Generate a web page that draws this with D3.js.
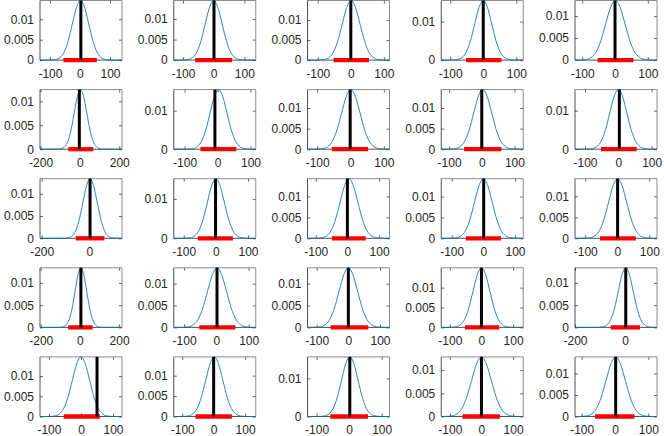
<!DOCTYPE html><meta charset="utf-8">
<style>*{margin:0}body{background:#fff}text{font-family:"Liberation Sans",Arial,sans-serif;font-size:12px;fill:#262626}</style>
<svg width="664" height="436"></svg>
<script src="https://d3js.org/d3.v7.min.js"></script>
<script>
// one entry per panel, row by row (5 x 5)
const xLo     = [-133,-130,-131,-127,-122, -203,-133,-129,-124,-130, -207,-131,-126,-133,-132, -204,-132,-129,-127,-200, -128,-127,-128,-127,-120];
const xHi     = [ 140, 137, 117, 121, 128,  214, 116, 117, 127, 116,  137, 124, 133, 126, 124,  215, 122, 130, 132, 128,  128, 134, 124, 132, 126];
const xTicks  = [[-100,0,100],[-100,0,100],[-100,0,100],[-100,0,100],[-100,0,100],
                 [-200,0,200],[-100,0,100],[-100,0,100],[-100,0,100],[-100,0,100],
                 [-200,0],    [-100,0,100],[-100,0,100],[-100,0,100],[-100,0,100],
                 [-200,0,200],[-100,0,100],[-100,0,100],[-100,0,100],[-200,0],
                 [-100,0,100],[-100,0,100],[-100,0,100],[-100,0,100],[-100,0,100]];
const yTicks  = [[0,0.005,0.01],[0,0.005,0.01],[0,0.005,0.01],[0,0.01],[0,0.005,0.01],
                 [0,0.005,0.01],[0,0.01],[0,0.005,0.01],[0,0.005,0.01],[0,0.01],
                 [0,0.005,0.01],[0,0.01],[0,0.005,0.01],[0,0.005,0.01],[0,0.005,0.01],
                 [0,0.005,0.01],[0,0.005,0.01],[0,0.005,0.01],[0,0.005,0.01],[0,0.005,0.01],
                 [0,0.005,0.01],[0,0.005,0.01],[0,0.01],[0,0.005,0.01],[0,0.005,0.01]];
const peaks   = [0.0146,0.0145,0.0149,0.0155,0.0135, 0.01245,0.0155,0.01447,0.01447,0.0155,
                 0.01338,0.0152,0.01424,0.01428,0.0142, 0.01341,0.01362,0.01362,0.0150,0.0134,
                 0.01475,0.0146,0.01565,0.01286,0.01385];
const spreads = [27.3,27.5,26.8,25.7,29.5, 32.0,25.7,27.6,27.6,25.7,
                 29.8,26.2,28.0,27.9,28.1, 29.7,29.3,29.3,26.6,29.8,
                 27.0,27.3,25.5,31.0,28.8];
const centers = [2,0,1,0,1, 3,3,1,3,0, 3,0,5,0,1, 5,2,0,0,3, 0,2,2,0,2];
const lineAt  = [3,1,0,0,0, -3,-8,-1,0,3, 3,-1,0,1,1, 5,2,0,0,3, 50,0,2,0,2];
const barLo   = [-55,-60,-52,-52,-53, -59,-52,-56,-54,-52, -57,-56,-49,-55,-54, -60,-53,-56,-52,-57, -54,-58,-58,-60,-60];
const barHi   = [ 56, 60, 55, 55, 56,  68, 57, 53, 60, 55,  63, 53, 58, 56, 58,  65, 59, 63, 56, 60,  59, 58, 58, 58, 58];

// bell profile: offsets in spreads, height relative to the peak
const bellZ = [-4,-3.5,-3,-2.5,-2,-1.5,-1,-0.5,0,0.5,1,1.5,2,2.5,3,3.5,4];
const bellH = [0.0003,0.0022,0.011,0.044,0.135,0.325,0.607,0.882,1,0.882,0.607,0.325,0.135,0.044,0.011,0.0022,0.0003];

const svg = d3.select("svg"),
      cols = 5, left0 = 40, colStep = 133.75, boxW = 82,
      top0 = 0.5, rowStep = 89.1, boxH = 59.6,
      num = d => String(d);

xLo.forEach((lo, i) => {
  const r = Math.floor(i / cols), c = i % cols,
        g = svg.append("g").attr("transform", `translate(${left0 + c*colStep},${top0 + r*rowStep})`),
        x = d3.scaleLinear().domain([lo, xHi[i]]).range([0, boxW]),
        y = d3.scaleLinear().domain([0, peaks[i]]).range([boxH, 0]);

  // axes with inward ticks on all four sides
  g.append("g").attr("transform", `translate(0,${boxH})`)
   .call(d3.axisBottom(x).tickValues(xTicks[i]).tickSizeInner(-3).tickSizeOuter(0).tickPadding(9).tickFormat(num));
  g.append("g")
   .call(d3.axisTop(x).tickValues(xTicks[i]).tickSizeInner(-3).tickSizeOuter(0).tickFormat(""));
  g.append("g")
   .call(d3.axisLeft(y).tickValues(yTicks[i]).tickSizeInner(-3).tickSizeOuter(0).tickPadding(6).tickFormat(num));
  g.append("g").attr("transform", `translate(${boxW},0)`)
   .call(d3.axisRight(y).tickValues(yTicks[i]).tickSizeInner(-3).tickSizeOuter(0).tickFormat(""));
  g.selectAll(".domain").remove();
  g.selectAll(".tick line").attr("stroke", "#262626").attr("stroke-width", 0.7);
  g.selectAll(".tick text").attr("fill", "#262626").style("font-size", "12px");

  // box: left/bottom dark, top/right lighter as in the source
  g.append("path").attr("d", `M0,0V${boxH}H${boxW}`)
   .attr("fill", "none").attr("stroke", "#262626").attr("stroke-width", 0.8);
  g.append("path").attr("d", `M0,0H${boxW}V${boxH}`)
   .attr("fill", "none").attr("stroke", "#707070").attr("stroke-width", 0.8);

  // density curve
  const clipId = "clip" + i;
  g.append("clipPath").attr("id", clipId)
   .append("rect").attr("x", 0).attr("y", -1).attr("width", boxW).attr("height", boxH + 2);
  const pts = [[lo, 0]].concat(bellZ.map((z, k) => [centers[i] + z*spreads[i], peaks[i]*bellH[k]]), [[xHi[i], 0]]);
  g.append("path").attr("clip-path", `url(#${clipId})`)
   .attr("fill", "none").attr("stroke", "#0072bd").attr("stroke-width", 0.85)
   .attr("d", d3.line().x(d => x(d[0])).y(d => y(d[1])).curve(d3.curveMonotoneX)(pts));

  // interval bar on the axis
  g.append("line")
   .attr("x1", x(barLo[i])).attr("x2", x(barHi[i]))
   .attr("y1", y(0)).attr("y2", y(0))
   .attr("stroke", "#ff0000").attr("stroke-width", 4.3);

  // observed value
  g.append("line")
   .attr("x1", x(lineAt[i])).attr("x2", x(lineAt[i]))
   .attr("y1", y(0)).attr("y2", y(peaks[i]))
   .attr("stroke", "#000").attr("stroke-width", 3);
});
</script>
